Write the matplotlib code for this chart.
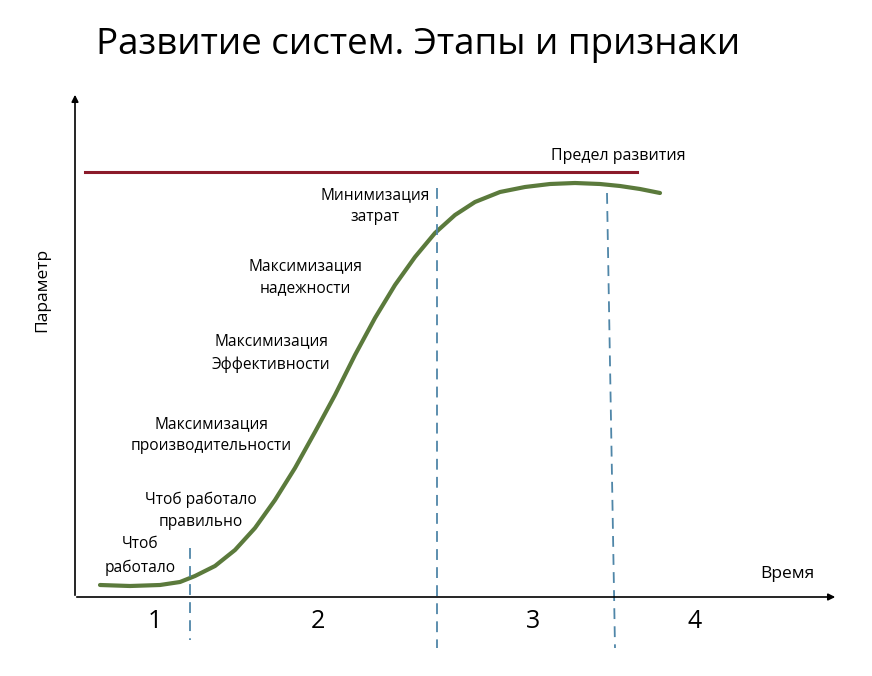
import matplotlib
matplotlib.use("Agg")
import matplotlib.pyplot as plt

# curve (pixel-like coordinates, y down)
curve_x = [100,130,160,180,195,215,235,255,275,295,315,335,355,375,395,415,435,455,475,500,525,550,575,600,620,640,660]
curve_y = [585,586,585,582,576,566,550,528,500,468,432,395,355,318,285,257,233,215,202,192,187,184,183,184,186,189,193]
limit_y = 172
dividers = [(190,190,548,640),(437,437,188,648),(607,615,193,648)]
stage_labels = ["1","2","3","4"]
stage_x = [155,318,533,695]
annotations = [
    ("Чтоб\nработало", 140, 556),
    ("Чтоб работало\nправильно", 201, 511),
    ("Максимизация\nпроизводительности", 211, 435),
    ("Максимизация\nЭффективности", 271, 353),
    ("Максимизация\nнадежности", 305, 277),
    ("Минимизация\nзатрат", 375, 206),
]

fig = plt.figure(figsize=(8.72,6.76), dpi=100)
ax = fig.add_axes([0,0,1,1])
ax.set_xlim(0,872); ax.set_ylim(676,0); ax.axis('off')

ax.annotate("", xy=(75,92), xytext=(75,598), arrowprops=dict(arrowstyle="-|>", color="black", lw=1.2, mutation_scale=10))
ax.annotate("", xy=(838,597), xytext=(74,597), arrowprops=dict(arrowstyle="-|>", color="black", lw=1.2, mutation_scale=10))

ax.plot([85,637],[limit_y,limit_y], color="#8b1a2a", lw=2.2)
ax.plot(curve_x, curve_y, color="#5b7a3c", lw=3, solid_capstyle="round")
for x0,x1,y0,y1 in dividers:
    ax.plot([x0,x1],[y0,y1], color="#4f86a8", lw=1.3, ls=(0,(6,4)))

ax.text(418,45,"Развитие систем. Этапы и признаки", fontsize=26.5, ha="center", va="center", family="Open Sans")
ax.text(618,156,"Предел развития", fontsize=11.5, ha="center", va="center", family="Open Sans")
ax.text(787,574,"Время", fontsize=12.5, ha="center", va="center", family="Open Sans")
ax.text(42,290,"Параметр", fontsize=12.5, ha="center", va="center", rotation=90, family="Open Sans")
for s,x in zip(stage_labels, stage_x):
    ax.text(x,622,s, fontsize=18, ha="center", va="center", family="Open Sans")
for t,x,y in annotations:
    ax.text(x,y,t, fontsize=11.2, ha="center", va="center", linespacing=1.55, family="Open Sans")

fig.savefig("out.png", dpi=100)
